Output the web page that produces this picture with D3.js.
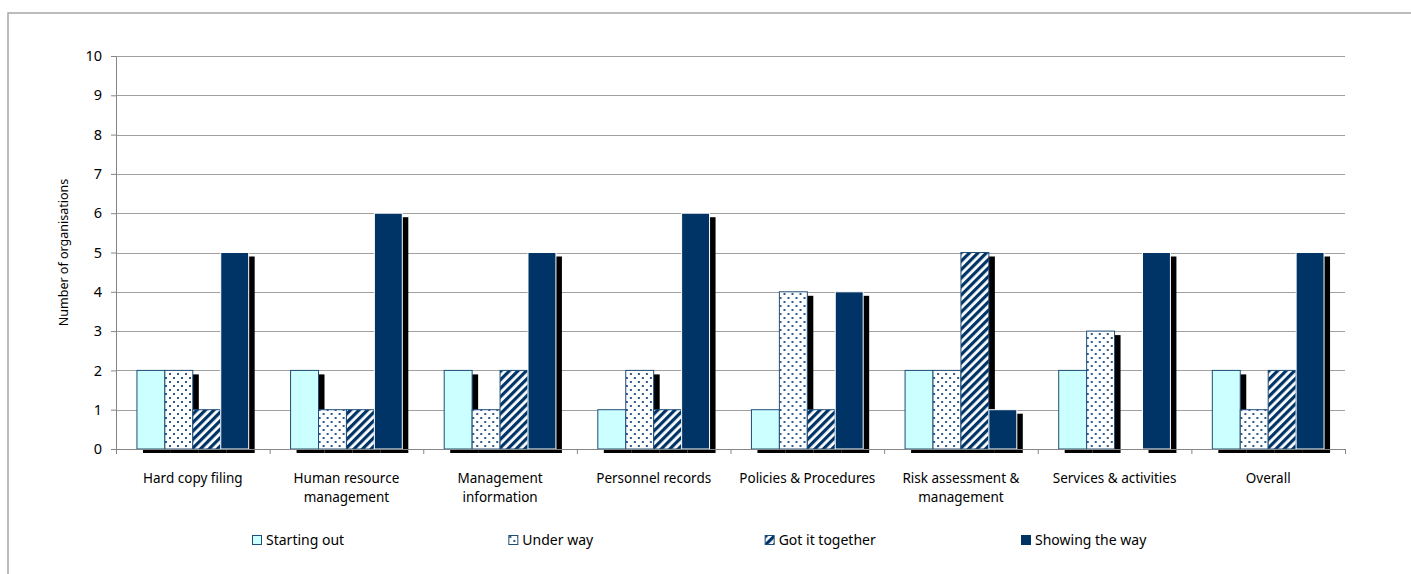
<!DOCTYPE html>
<html>
<head>
<meta charset="utf-8">
<script src="https://cdn.jsdelivr.net/npm/d3@7"></script>
<style>
  body { margin: 0; background: #fff; }
  svg text { font-family: "Noto Sans", sans-serif; fill: #000; }
  .gridline { stroke: #a0a0a0; stroke-width: 1; }
  .axis path, .axis line { stroke: #868686; }
</style>
</head>
<body>
<div id="chart"></div>
<script>
const categories = ["Hard copy filing", "Human resource management", "Management information",
  "Personnel records", "Policies & Procedures", "Risk assessment & management",
  "Services & activities", "Overall"];
const seriesNames = ["Starting out", "Under way", "Got it together", "Showing the way"];
const startingOut   = [2, 2, 2, 1, 1, 2, 2, 2];
const underWay      = [2, 1, 1, 2, 4, 2, 3, 1];
const gotItTogether = [1, 1, 2, 1, 1, 5, 0, 2];
const showingTheWay = [5, 6, 5, 6, 4, 1, 5, 5];
const yTickValues = [0, 1, 2, 3, 4, 5, 6, 7, 8, 9, 10];
const yTitle = "Number of organisations";

class GroupedBarChart {

  constructor(_config) {
    this.config = {
      parentElement: _config.parentElement,
      containerWidth: 1411,
      containerHeight: 574
    }
    this.config.margin = _config.margin || { top: 56, bottom: 125, right: 66, left: 116 };
    this.initVis();
  }

  initVis() {
    let vis = this;
    let m = vis.config.margin;
    vis.config.width = vis.config.containerWidth - m.left - m.right;
    vis.config.height = vis.config.containerHeight - m.top - m.bottom;

    vis.svgContainer = d3.select(vis.config.parentElement).append("svg")
        .attr("width", vis.config.containerWidth)
        .attr("height", vis.config.containerHeight);

    // chart area border (runs off the right and bottom of the picture)
    vis.svgContainer.append("rect")
        .attr("x", 8).attr("y", 13)
        .attr("width", 1440).attr("height", 600)
        .attr("fill", "none")
        .attr("stroke", "#a6a6a6")
        .attr("stroke-width", 1.5);

    let defs = vis.svgContainer.append("defs");

    let dots = defs.append("pattern")
        .attr("id", "pat-dots")
        .attr("patternUnits", "userSpaceOnUse")
        .attr("width", 8).attr("height", 8);
    dots.append("rect").attr("width", 8).attr("height", 8).attr("fill", "#fff");
    dots.append("rect").attr("x", 1).attr("y", 1).attr("width", 2).attr("height", 2).attr("fill", "#2f5a8c");
    dots.append("rect").attr("x", 5).attr("y", 5).attr("width", 2).attr("height", 2).attr("fill", "#2f5a8c");

    let stripes = defs.append("pattern")
        .attr("id", "pat-stripes")
        .attr("patternUnits", "userSpaceOnUse")
        .attr("width", 6).attr("height", 6)
        .attr("patternTransform", "rotate(45)");
    stripes.append("rect").attr("width", 6).attr("height", 6).attr("fill", "#fff");
    stripes.append("rect").attr("x", 0).attr("width", 3.2).attr("height", 6).attr("fill", "#003366");

    vis.fills = ["#ccffff", "url(#pat-dots)", "url(#pat-stripes)", "#003366"];
    vis.strokes = ["#1f4e79", "#1f4e79", "#1f4e79", "#ffffff"];

    vis.svg = vis.svgContainer.append("g")
        .attr("transform", "translate(" + m.left + "," + m.top + ")");

    vis.xScale = d3.scaleBand()
        .domain(categories)
        .range([0, vis.config.width]);

    // Excel gap width 150%: 4 bars + 1.5 bar of gap per category
    vis.barWidth = vis.xScale.bandwidth() / 5.5;
    vis.xInner = d3.scaleBand()
        .domain(seriesNames)
        .range([vis.barWidth * 0.75, vis.barWidth * 4.75]);

    vis.yScale = d3.scaleLinear()
        .domain([0, 10])
        .range([vis.config.height, 0]);

    vis.data = categories.map((c, i) => ({
      category: c,
      values: [startingOut[i], underWay[i], gotItTogether[i], showingTheWay[i]]
        .map((v, j) => ({ series: seriesNames[j], index: j, value: v }))
    }));

    vis.updateVis();
  }

  updateVis() {
    let vis = this;

    // Gridlines
    vis.svg.selectAll(".gridline")
        .data(yTickValues.filter(d => d > 0))
      .enter().append("line")
        .attr("class", "gridline")
        .attr("x1", 0)
        .attr("x2", vis.config.width)
        .attr("y1", d => Math.round(vis.yScale(d)) + 0.5)
        .attr("y2", d => Math.round(vis.yScale(d)) + 0.5);

    let group = vis.svg.selectAll(".group")
        .data(vis.data)
      .enter().append("g")
        .attr("class", "group")
        .attr("transform", d => "translate(" + vis.xScale(d.category) + ",0)");

    // Shadows first, so neighbouring bars cover them
    group.selectAll(".shadow")
        .data(d => d.values.filter(v => v.value > 0))
      .enter().append("rect")
        .attr("class", "shadow")
        .attr("x", d => vis.xInner(d.series) + 6)
        .attr("y", d => vis.yScale(d.value) + 4)
        .attr("width", vis.xInner.bandwidth())
        .attr("height", d => vis.yScale(0) - vis.yScale(d.value))
        .attr("fill", "#000");

    group.selectAll(".bar")
        .data(d => d.values.filter(v => v.value > 0))
      .enter().append("rect")
        .attr("class", "bar")
        .attr("x", d => vis.xInner(d.series))
        .attr("y", d => vis.yScale(d.value))
        .attr("width", vis.xInner.bandwidth())
        .attr("height", d => vis.yScale(0) - vis.yScale(d.value))
        .attr("fill", d => vis.fills[d.index])
        .attr("stroke", d => vis.strokes[d.index])
        .attr("stroke-width", 1);

    // Axes
    let yAxis = d3.axisLeft(vis.yScale)
        .tickValues(yTickValues)
        .tickSize(5)
        .tickPadding(9)
        .tickSizeOuter(0);
    vis.svg.append("g")
        .attr("class", "axis axis--y")
        .call(yAxis)
        .selectAll("text")
        .style("font-size", "14.5px");

    let xBounds = d3.scaleLinear().domain([0, categories.length]).range([0, vis.config.width]);
    vis.svg.append("g")
        .attr("class", "axis axis--x")
        .attr("transform", "translate(0," + vis.config.height + ")")
        .call(d3.axisBottom(xBounds).tickValues(d3.range(categories.length + 1)).tickFormat("").tickSize(5).tickSizeOuter(0));

    // Category labels, wrapped to the band width
    vis.svg.selectAll(".cat-label")
        .data(categories)
      .enter().append("text")
        .attr("class", "cat-label")
        .attr("text-anchor", "middle")
        .attr("x", d => vis.xScale(d) + vis.xScale.bandwidth() / 2)
        .attr("y", vis.config.height + 34)
        .style("font-size", "13.5px")
        .each(function(d) { wrap(d3.select(this), d, 148, 18.5); });

    // Y axis title
    vis.svgContainer.append("text")
        .attr("transform", "translate(68," + (vis.config.margin.top + vis.config.height / 2) + ") rotate(-90)")
        .attr("text-anchor", "middle")
        .style("font-size", "12.5px")
        .text(yTitle);

    // Legend
    let legendX = d3.scalePoint().domain(seriesNames).range([252, 1021]);
    let legend = vis.svgContainer.selectAll(".legend-item")
        .data(seriesNames)
      .enter().append("g")
        .attr("class", "legend-item")
        .attr("transform", d => "translate(" + legendX(d) + ",535)");
    legend.append("rect")
        .attr("x", 0.5).attr("y", 0.5)
        .attr("width", 9).attr("height", 9)
        .attr("fill", (d, i) => vis.fills[i])
        .attr("stroke", (d, i) => i === 3 ? "#003366" : "#1f4e79");
    legend.append("text")
        .attr("x", 14)
        .attr("y", 10)
        .style("font-size", "14px")
        .text(d => d);
  }
}

function wrap(textSel, str, maxWidth, lineHeight) {
  let words = str.split(" ");
  let line = [];
  let x = textSel.attr("x");
  let tspan = textSel.append("tspan").attr("x", x).attr("dy", 0);
  words.forEach(w => {
    line.push(w);
    tspan.text(line.join(" "));
    if (tspan.node().getComputedTextLength() > maxWidth && line.length > 1) {
      line.pop();
      tspan.text(line.join(" "));
      line = [w];
      tspan = textSel.append("tspan").attr("x", x).attr("dy", lineHeight).text(w);
    }
  });
}

new GroupedBarChart({ parentElement: "#chart" });
</script>
</body>
</html>
